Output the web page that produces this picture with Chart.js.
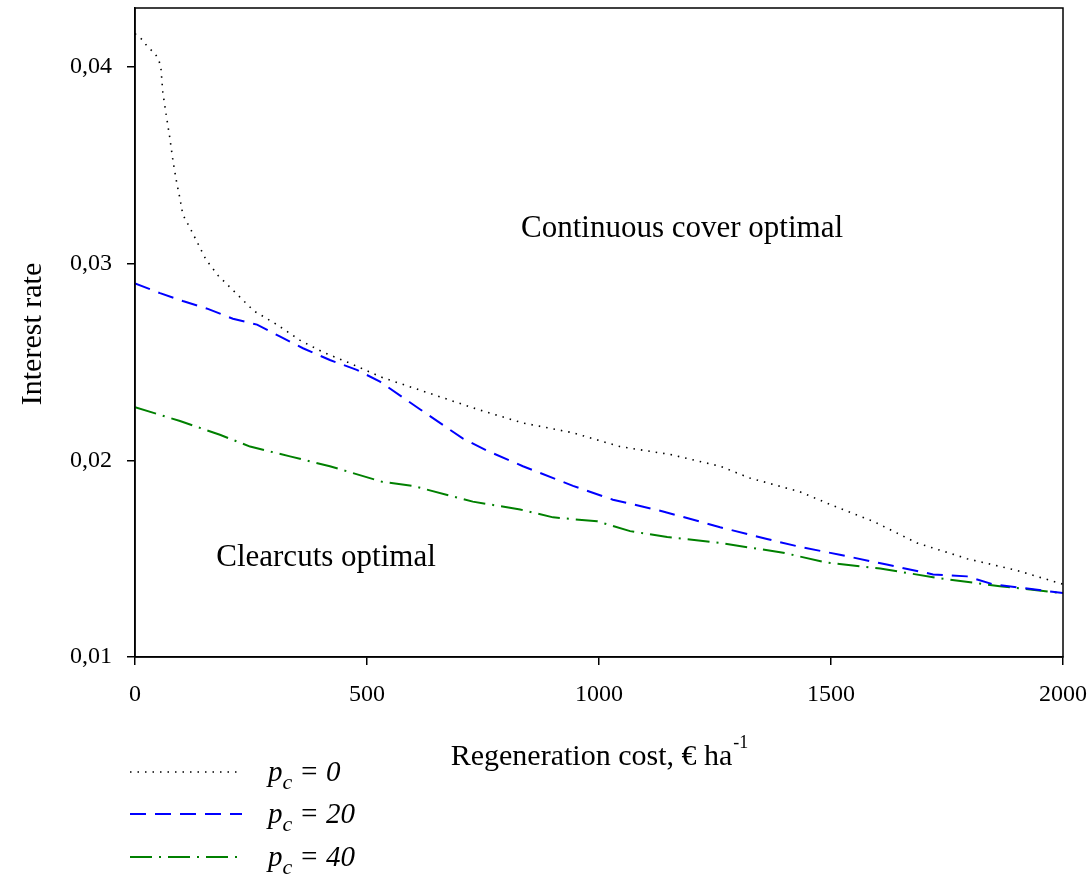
<!DOCTYPE html>
<html>
<head>
    <script src="https://cdn.jsdelivr.net/npm/chart.js"></script>
    <style>
        body { margin: 0; background: #fff; }
    </style>
    <script>
        // regeneration cost (x) and interest rate (y) for each p_c curve
        const costP0 = [0, 15, 28, 43, 52, 56, 60, 67, 75, 82, 90, 97, 103, 121, 136, 153, 179, 209, 256, 306, 356, 405, 457, 534, 636, 737, 836, 944, 1045, 1153, 1261, 1325, 1433, 1504, 1591, 1685, 1793, 1901, 2000];
        const rateP0 = [0.0417, 0.0414, 0.0410, 0.0407, 0.0403, 0.0399, 0.0387, 0.0376, 0.0364, 0.0352, 0.0341, 0.0333, 0.0325, 0.0317, 0.0310, 0.0302, 0.0294, 0.0287, 0.0276, 0.0269, 0.0261, 0.0255, 0.0250, 0.0242, 0.0234, 0.0226, 0.0219, 0.0214, 0.0207, 0.0203, 0.0197, 0.0191, 0.0184, 0.0177, 0.0169, 0.0158, 0.0150, 0.0144, 0.0137];

        const costP20 = [0, 54, 103, 157, 211, 263, 312, 362, 420, 478, 528, 614, 707, 758, 836, 944, 1030, 1138, 1261, 1362, 1433, 1519, 1620, 1720, 1793, 1849, 2000];
        const rateP20 = [0.0290, 0.0285, 0.0281, 0.0277, 0.0272, 0.0269, 0.0263, 0.0257, 0.0251, 0.0246, 0.0240, 0.0226, 0.0211, 0.0205, 0.0197, 0.0187, 0.0180, 0.0174, 0.0166, 0.0160, 0.0156, 0.0152, 0.0147, 0.0142, 0.0141, 0.0137, 0.01325];

        const costP40 = [0, 97, 183, 248, 334, 420, 534, 599, 728, 830, 901, 996, 1067, 1147, 1261, 1397, 1491, 1606, 1735, 1864, 2000];
        const rateP40 = [0.0227, 0.0220, 0.0213, 0.0207, 0.0202, 0.0197, 0.0189, 0.0187, 0.0179, 0.0175, 0.0171, 0.0169, 0.0164, 0.0161, 0.0158, 0.0153, 0.0148, 0.0145, 0.0140, 0.0136, 0.01325];

        const xTicks = [0, 500, 1000, 1500, 2000];
        const yTicks = [0.01, 0.02, 0.03, 0.04];

        const serif = '"Liberation Serif", "DejaVu Serif", serif';

        function pts(xs, ys) {
            return xs.map((x, i) => ({ x: x, y: ys[i] }));
        }

        const series = [
            { label: 'p_c = 0', xs: costP0, ys: rateP0, color: '#000000', dash: [1.5, 6], width: 1.6, value: '0' },
            { label: 'p_c = 20', xs: costP20, ys: rateP20, color: '#0000ff', dash: [16, 9], width: 2, value: '20' },
            { label: 'p_c = 40', xs: costP40, ys: rateP40, color: '#008000', dash: [22, 7, 2, 7], width: 2, value: '40' }
        ];

        // frame, axis titles, region labels and the legend
        const extras = {
            id: 'extras',
            afterDraw(chart) {
                const ctx = chart.ctx;
                const a = chart.chartArea;
                ctx.save();
                ctx.strokeStyle = '#000';
                ctx.lineWidth = 1.5;
                ctx.strokeRect(a.left, a.top, a.right - a.left, a.bottom - a.top);

                ctx.fillStyle = '#000';
                ctx.textBaseline = 'alphabetic';

                // y title
                ctx.save();
                ctx.translate(41, 334);
                ctx.rotate(-Math.PI / 2);
                ctx.font = '30px ' + serif;
                ctx.textAlign = 'center';
                ctx.fillText('Interest rate', 0, 0);
                ctx.restore();

                // x title with superscript
                ctx.font = '30px ' + serif;
                ctx.textAlign = 'left';
                const t1 = 'Regeneration cost, \u20ac ha';
                const w1 = ctx.measureText(t1).width;
                ctx.font = '18px ' + serif;
                const w2 = ctx.measureText('-1').width;
                const x0 = 599 - (w1 + w2) / 2;
                ctx.font = '30px ' + serif;
                ctx.fillText(t1, x0, 765);
                ctx.font = '18px ' + serif;
                ctx.fillText('-1', x0 + w1 + 1, 748);

                // region labels
                ctx.font = '31px ' + serif;
                ctx.textAlign = 'center';
                ctx.fillText('Continuous cover optimal', 682, 237);
                ctx.fillText('Clearcuts optimal', 326, 566);

                // legend
                const rows = [772, 814, 857];
                series.forEach((s, i) => {
                    const y = rows[i];
                    ctx.save();
                    ctx.strokeStyle = s.color;
                    ctx.lineWidth = s.width;
                    ctx.setLineDash(s.dash);
                    ctx.beginPath();
                    ctx.moveTo(130, y);
                    ctx.lineTo(242, y);
                    ctx.stroke();
                    ctx.restore();

                    const base = y + 9;
                    ctx.textAlign = 'left';
                    ctx.font = 'italic 29px ' + serif;
                    ctx.fillText('p', 268, base);
                    let xx = 268 + ctx.measureText('p').width;
                    ctx.font = 'italic 22px ' + serif;
                    ctx.fillText('c', xx, base + 8);
                    xx += ctx.measureText('c').width + 7;
                    ctx.font = 'italic 29px ' + serif;
                    ctx.fillText('= ' + s.value, xx, base);
                });
                ctx.restore();
            }
        };

        window.onload = function () {
            const chart_data = {
                datasets: series.map(s => ({
                    label: s.label,
                    data: pts(s.xs, s.ys),
                    borderColor: s.color,
                    borderWidth: s.width,
                    borderDash: s.dash,
                    pointRadius: 0,
                    tension: 0,
                    fill: false
                }))
            };

            const config = {
                type: 'line',
                data: chart_data,
                plugins: [extras],
                options: {
                    responsive: false,
                    animation: false,
                    layout: { padding: { left: 0, top: 8, right: 29, bottom: 147 } },
                    plugins: { legend: { display: false }, tooltip: { enabled: false } },
                    scales: {
                        x: {
                            type: 'linear',
                            min: 0,
                            max: 2000,
                            afterFit: s => {
                                s.height = 70;
                                s.paddingLeft = 0;
                                s.paddingRight = 0;
                            },
                            afterBuildTicks: s => { s.ticks = xTicks.map(v => ({ value: v })); },
                            ticks: {
                                color: '#000',
                                font: { family: serif, size: 24 },
                                padding: 15,
                                maxRotation: 0,
                                callback: v => String(v)
                            },
                            grid: { drawOnChartArea: false, drawTicks: true, tickLength: 8, color: '#000', lineWidth: 1.5 },
                            border: { display: true, color: '#000', width: 1.5 }
                        },
                        y: {
                            min: 0.01,
                            max: 0.043,
                            afterFit: s => {
                                s.width = 135;
                                s.paddingTop = 0;
                                s.paddingBottom = 0;
                            },
                            afterBuildTicks: s => { s.ticks = yTicks.map(v => ({ value: v })); },
                            ticks: {
                                color: '#000',
                                font: { family: serif, size: 24 },
                                padding: 15,
                                callback: v => v.toFixed(2).replace('.', ',')
                            },
                            grid: { drawOnChartArea: false, drawTicks: true, tickLength: 8, color: '#000', lineWidth: 1.5 },
                            border: { display: true, color: '#000', width: 1.5 }
                        }
                    }
                }
            };

            new Chart(document.getElementById('rateChart'), config);
        };
    </script>
</head>
<body>
    <canvas id="rateChart" width="1092" height="874"></canvas>
</body>
</html>
